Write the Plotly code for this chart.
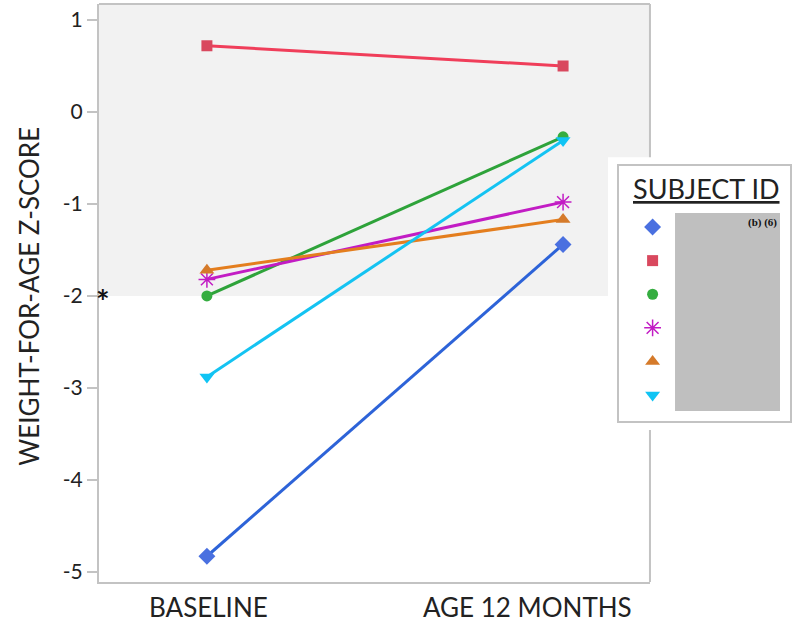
import plotly.graph_objects as go

# Weight-for-age z-scores at two time points for six subjects
timepoints = ["BASELINE", "AGE 12 MONTHS"]
subjects = ["S1", "S2", "S3", "S4", "S5", "S6"]
baseline = [-4.83, 0.72, -2.00, -1.82, -1.72, -2.88]
month12 = [-1.44, 0.50, -0.27, -0.98, -1.17, -0.31]
y_ticks = [1, 0, -1, -2, -3, -4, -5]
y_tick_text = ["1", "0", "-1", "-2", "-3", "-4", "-5"]

symbols = ["diamond", "square", "circle", "asterisk-open", "triangle-up", "triangle-down"]
line_colors = ["#2d63d8", "#f03e5a", "#2ea33a", "#c21cc4", "#e47e1e", "#14c3f2"]
marker_colors = ["#4a70e0", "#d9485e", "#35ad40", "#c21cc4", "#d57a2a", "#10c4f4"]
marker_sizes = [13, 11, 11, 14, 13, 13]

cutoff = -2
y_range = [-5.11, 1.174]
font = "Lato"
text_color = "#222222"
frame_color = "#c3c3c3"

fig = go.Figure()

for i, sid in enumerate(subjects):
    fig.add_trace(go.Scatter(
        x=[0, 1], y=[baseline[i], month12[i]],
        mode="lines+markers", name=sid,
        line=dict(color=line_colors[i], width=3),
        marker=dict(symbol=symbols[i], size=marker_sizes[i], color=marker_colors[i], opacity=1,
                    line=dict(color=marker_colors[i], width=1.5 if symbols[i] == "asterisk-open" else 0)),
        showlegend=False,
    ))

# Key symbols, one per subject, stacked inside the key box
fig.add_trace(go.Scatter(
    x=[0] * len(subjects), y=list(range(len(subjects))),
    mode="markers", xaxis="x2", yaxis="y2", showlegend=False, hoverinfo="skip",
    marker=dict(symbol=symbols, size=marker_sizes, color=marker_colors, opacity=1,
                line=dict(color=marker_colors, width=[0, 0, 0, 1.5, 0, 0])),
))

shapes = [
    # shaded band above the -2 cut-off
    dict(type="rect", xref="paper", yref="y", x0=0, x1=0.7962, y0=cutoff, y1=y_range[1],
         fillcolor="#f2f2f2", line=dict(width=0), layer="below"),
    # top and right edges of the plot frame
    dict(type="line", xref="paper", yref="paper", x0=0, x1=0.7962, y0=1, y1=1,
         line=dict(color=frame_color, width=2), layer="below"),
    dict(type="line", xref="paper", yref="paper", x0=0.7962, x1=0.7962, y0=0, y1=1,
         line=dict(color=frame_color, width=2), layer="below"),
    # key box
    dict(type="rect", xref="paper", yref="paper", x0=0.7355, x1=1.006, y0=0.263, y1=0.735,
         fillcolor="white", line=dict(width=0), layer="below"),
    dict(type="rect", xref="paper", yref="paper", x0=0.75, x1=1.0, y0=0.2768, y1=0.7215,
         fillcolor="white", line=dict(color=frame_color, width=2), layer="below"),
    dict(type="rect", xref="paper", yref="paper", x0=0.8324, x1=0.9841, y0=0.2958, y1=0.6384,
         fillcolor="#bfbfbf", line=dict(width=0), layer="below"),
]

annotations = [
    dict(text="<u>SUBJECT ID</u>", xref="paper", yref="paper", x=0.8786, y=0.680,
         xanchor="center", yanchor="middle", showarrow=False,
         font=dict(family=font, size=27, color=text_color)),
    dict(text="<b>(b) (6)</b>", xref="paper", yref="paper", x=0.9827, y=0.6228,
         xanchor="right", yanchor="middle", showarrow=False,
         font=dict(family="Liberation Serif", size=11, color="#111111")),
    dict(text="WEIGHT-FOR-AGE Z-SCORE", xref="paper", yref="paper", x=-0.1015, y=0.4948,
         xanchor="center", yanchor="middle", textangle=-90, showarrow=False,
         font=dict(family=font, size=26, color=text_color)),
    dict(text="<b>*</b>", xref="paper", yref="y", x=0.006, y=cutoff, yshift=-6,
         xanchor="center", yanchor="middle", showarrow=False,
         font=dict(family=font, size=32, color="#111111")),
]
label_shift = [2, -36]
for i, lab in enumerate(timepoints):
    annotations.append(dict(text=lab, xref="x", yref="paper", x=i, y=-0.0433, xshift=label_shift[i],
                            xanchor="center", yanchor="middle", showarrow=False,
                            font=dict(family=font, size=26, color=text_color)))

fig.update_layout(
    width=795, height=625,
    margin=dict(l=99, r=4, t=4, b=43),
    paper_bgcolor="white", plot_bgcolor="rgba(0,0,0,0)",
    font=dict(family=font, color=text_color),
    xaxis=dict(domain=[0, 0.7962], range=[-0.303, 1.244], showticklabels=False, ticks="",
               showgrid=False, zeroline=False, showline=True, linecolor=frame_color, linewidth=2),
    yaxis=dict(range=y_range, tickvals=y_ticks, ticktext=y_tick_text, showgrid=False, zeroline=False,
               showline=True, linecolor=frame_color, linewidth=2,
               ticks="outside", ticklen=10, tickwidth=2, tickcolor=frame_color,
               tickfont=dict(family=font, size=21, color=text_color)),
    xaxis2=dict(domain=[0.75, 1.0], range=[-0.2, 0.8], anchor="y2", visible=False),
    yaxis2=dict(domain=[0.2768, 0.7215], range=[5.80, -1.845], anchor="x2", visible=False),
    shapes=shapes,
    annotations=annotations,
)

fig.write_html("out.html")
